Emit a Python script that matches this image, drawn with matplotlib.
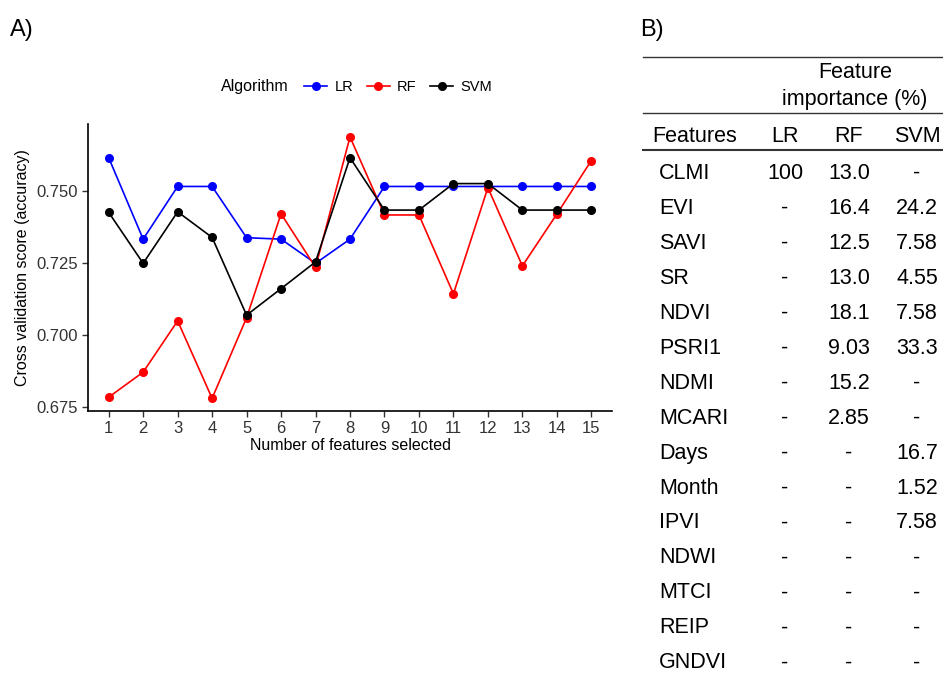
import matplotlib
matplotlib.use('Agg')
import matplotlib.pyplot as plt
from matplotlib.lines import Line2D

plt.rcParams['font.family'] = ['Liberation Sans', 'DejaVu Sans']

# Panel A data: cross validation accuracy per number of selected features
n_features = list(range(1, 16))
lr_score = [0.7615, 0.7332, 0.7515, 0.7515, 0.7337, 0.7332, 0.7248, 0.7332,
            0.7515, 0.7515, 0.7515, 0.7515, 0.7515, 0.7515, 0.7515]
rf_score = [0.6783, 0.6870, 0.7048, 0.6779, 0.7059, 0.7420, 0.7234, 0.7687,
            0.7416, 0.7416, 0.7142, 0.7511, 0.7239, 0.7419, 0.7605]
svm_score = [0.7425, 0.7248, 0.7427, 0.7338, 0.7068, 0.7160, 0.7253, 0.7615,
             0.7433, 0.7433, 0.7525, 0.7525, 0.7433, 0.7433, 0.7433]

# Panel B data: feature importance table
features = ['CLMI', 'EVI', 'SAVI', 'SR', 'NDVI', 'PSRI1', 'NDMI', 'MCARI',
            'Days', 'Month', 'IPVI', 'NDWI', 'MTCI', 'REIP', 'GNDVI']
imp_lr = ['100', '-', '-', '-', '-', '-', '-', '-', '-', '-', '-', '-', '-', '-', '-']
imp_rf = ['13.0', '16.4', '12.5', '13.0', '18.1', '9.03', '15.2', '2.85',
          '-', '-', '-', '-', '-', '-', '-']
imp_svm = ['-', '24.2', '7.58', '4.55', '7.58', '33.3', '-', '-',
           '16.7', '1.52', '7.58', '-', '-', '-', '-']

W, H = 943, 673
fig = plt.figure(figsize=(W / 100, H / 100), dpi=100)

ax = fig.add_axes([88 / W, 1 - 411 / H, (612 - 88) / W, (411 - 124) / H])
series = [('LR', lr_score, '#0000ff'), ('RF', rf_score, '#ff0000'),
          ('SVM', svm_score, '#000000')]
for name, vals, col in series:
    ax.plot(n_features, vals, color=col, lw=1.2, marker='o', ms=5.5, label=name)

ax.set_xlim(0.4, 15.6)
ax.set_ylim(0.6735, 0.7732)
ax.set_xticks(n_features)
ax.set_yticks([0.675, 0.700, 0.725, 0.750])
ax.set_yticklabels(['0.675', '0.700', '0.725', '0.750'])
for s in ['top', 'right']:
    ax.spines[s].set_visible(False)
for s in ['left', 'bottom']:
    ax.spines[s].set_linewidth(1.2)
ax.tick_params(labelsize=12, length=4, width=1, colors='#333333', labelcolor='#333333')
ax.set_xlabel('Number of features selected', fontsize=11.5, labelpad=1)
ax.set_ylabel('Cross validation score (accuracy)', fontsize=11.5, labelpad=4)

# legend on top
fig.text(255 / W, 1 - 87 / H, 'Algorithm', fontsize=11.5, ha='center', va='center')
handles = [Line2D([], [], color=c, lw=1.2, marker='o', ms=5.5) for _, _, c in series]
fig.legend(handles, [s[0] for s in series], loc='center left',
           bbox_to_anchor=(304 / W, 1 - 87 / H), ncol=3, frameon=False,
           fontsize=10.5, handlelength=1.6, handletextpad=0.5, columnspacing=0.9,
           borderaxespad=0, borderpad=0)

fig.text(10 / W, 1 - 30 / H, 'A)', fontsize=17, ha='left', va='center')
fig.text(640 / W, 1 - 30 / H, 'B)', fontsize=17, ha='left', va='center')

# table B
tfs = 15.5
def hline(y, lw=1.0):
    fig.add_artist(Line2D([643 / W, 943 / W], [1 - y / H, 1 - y / H],
                          color='#333333', lw=lw))

hline(57)
hline(113)
hline(150, lw=1.5)
fig.text(855 / W, 1 - 72 / H, 'Feature', fontsize=tfs, ha='center', va='center')
fig.text(855 / W, 1 - 100 / H, 'importance (%)', fontsize=tfs, ha='center', va='center')

col_x = [652, 785, 849, 917]
header = ['Features', 'LR', 'RF', 'SVM']
for i, h in enumerate(header):
    fig.text(col_x[i] / W, 1 - 136 / H, h, fontsize=tfs,
             ha='left' if i == 0 else 'center', va='center')

row_y0, row_dy = 173.5, 34.95
for r, name in enumerate(features):
    y = 1 - (row_y0 + r * row_dy) / H
    fig.text(659 / W, y, name, fontsize=tfs, ha='left', va='center')
    for c, vals in enumerate([imp_lr, imp_rf, imp_svm]):
        fig.text(col_x[c + 1] / W, y, vals[r], fontsize=tfs, ha='center', va='center')

fig.savefig('out.png', dpi=100)
